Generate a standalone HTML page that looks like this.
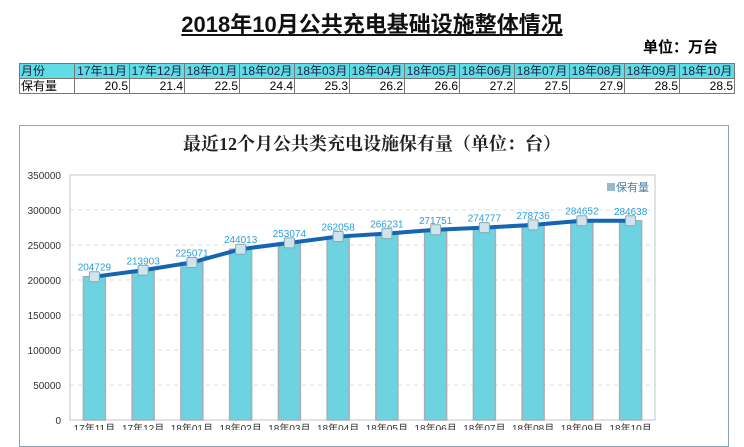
<!DOCTYPE html>
<html><head><meta charset="utf-8"><style>
body{margin:0;width:744px;height:430px;overflow:hidden;background:#fff;font-family:"Liberation Sans","Noto Sans CJK SC",sans-serif;position:relative}
#title{position:absolute;left:0;width:744px;top:7px;text-align:center;font-size:22px;font-weight:bold;text-decoration:underline;color:#111}
#unit{position:absolute;right:26px;top:36px;font-size:15px;font-weight:bold}
table{position:absolute;left:19px;top:63px;border-collapse:collapse;font-size:12px;table-layout:fixed}
td{border:1px solid #777;height:14px;padding:0 1px;line-height:14px;width:52px}
tr.h td{background:#5fdde6;text-align:center;color:#224}
tr.v td{text-align:right}
td.f{text-align:left!important;width:52px}
#chartbox{position:absolute;left:19px;top:125px;width:708px;height:320px;border:1px solid #8aa3b5}
</style></head><body>
<div id="title">2018年10月公共充电基础设施整体情况</div>
<div id="unit">单位：万台</div>
<table>
<tr class="h"><td class="f">月份</td><td>17年11月</td><td>17年12月</td><td>18年01月</td><td>18年02月</td><td>18年03月</td><td>18年04月</td><td>18年05月</td><td>18年06月</td><td>18年07月</td><td>18年08月</td><td>18年09月</td><td>18年10月</td></tr>
<tr class="v"><td class="f">保有量</td><td>20.5</td><td>21.4</td><td>22.5</td><td>24.4</td><td>25.3</td><td>26.2</td><td>26.6</td><td>27.2</td><td>27.5</td><td>27.9</td><td>28.5</td><td>28.5</td></tr>
</table>
<div id="chartbox"></div>
<svg id="chart" width="744" height="430" style="position:absolute;left:0;top:0">
<text x="372" y="150" text-anchor="middle" font-size="18" font-weight="bold" font-family="Liberation Serif,Noto Serif CJK SC,serif" fill="#222">最近12个月公共类充电设施保有量（单位：台）</text>
</svg>
<script>
const categories=["17年11月","17年12月","18年01月","18年02月","18年03月","18年04月","18年05月","18年06月","18年07月","18年08月","18年09月","18年10月"];
const values=[204729,213903,225071,244013,253074,262058,266231,271751,274777,278736,284652,284638];
const yTicks=[0,50000,100000,150000,200000,250000,300000,350000];
const svg=document.getElementById('chart');const NS='http://www.w3.org/2000/svg';
const L=70,R=655,T=175,B=420,yMax=350000;
const y=v=>B-(v/yMax)*(B-T);const band=(R-L)/categories.length;const x=i=>L+band*(i+0.5);
function mk(t,a){const e=document.createElementNS(NS,t);for(const k in a)e.setAttribute(k,a[k]);svg.appendChild(e);return e;}
let pa=mk('rect',{x:L,y:T,width:R-L,height:B-T,fill:'none',stroke:'#b8c8d4'});


yTicks.forEach(t=>{
 if(t>0&&t<yMax){let g=mk('line',{x1:L,x2:R,y1:y(t),y2:y(t),stroke:'#ddd','stroke-dasharray':'4 4'});
 
 }
 let tx=mk('text',{x:61,y:y(t)+4,'text-anchor':'end','font-size':10,fill:'#333'});tx.textContent=t;
 
 
});
values.forEach((v,i)=>{
 let b=mk('rect',{x:x(i)-11,y:y(v),width:22,height:B-y(v),fill:'#6dd3e0',stroke:'#a8aeb4','stroke-width':1.5});
 
 
});
let pts=values.map((v,i)=>x(i)+','+y(v)).join(' ');
let ln=mk('polyline',{points:pts,fill:'none',stroke:'#1566b0','stroke-width':4,'stroke-linejoin':'round'});


values.forEach((v,i)=>{
 let m=mk('rect',{x:x(i)-5,y:y(v)-5,width:10,height:10,fill:'#cfe4ee',stroke:'#8aa',rx:1});
 
 
 let t=mk('text',{x:x(i),y:y(v)-6,'text-anchor':'middle','font-size':10,fill:'#2aa0d8'});t.textContent=v;
 
 
 let c=mk('text',{x:x(i),y:432,'text-anchor':'middle','font-size':10,fill:'#333'});c.textContent=categories[i];
 
 
});
let lg=mk('rect',{x:607,y:183,width:8,height:8,fill:'#9ab8cc'});


let lt=mk('text',{x:616,y:191,'font-size':11,fill:'#4a7fa6'});lt.textContent='保有量';


</script>
</body></html>
